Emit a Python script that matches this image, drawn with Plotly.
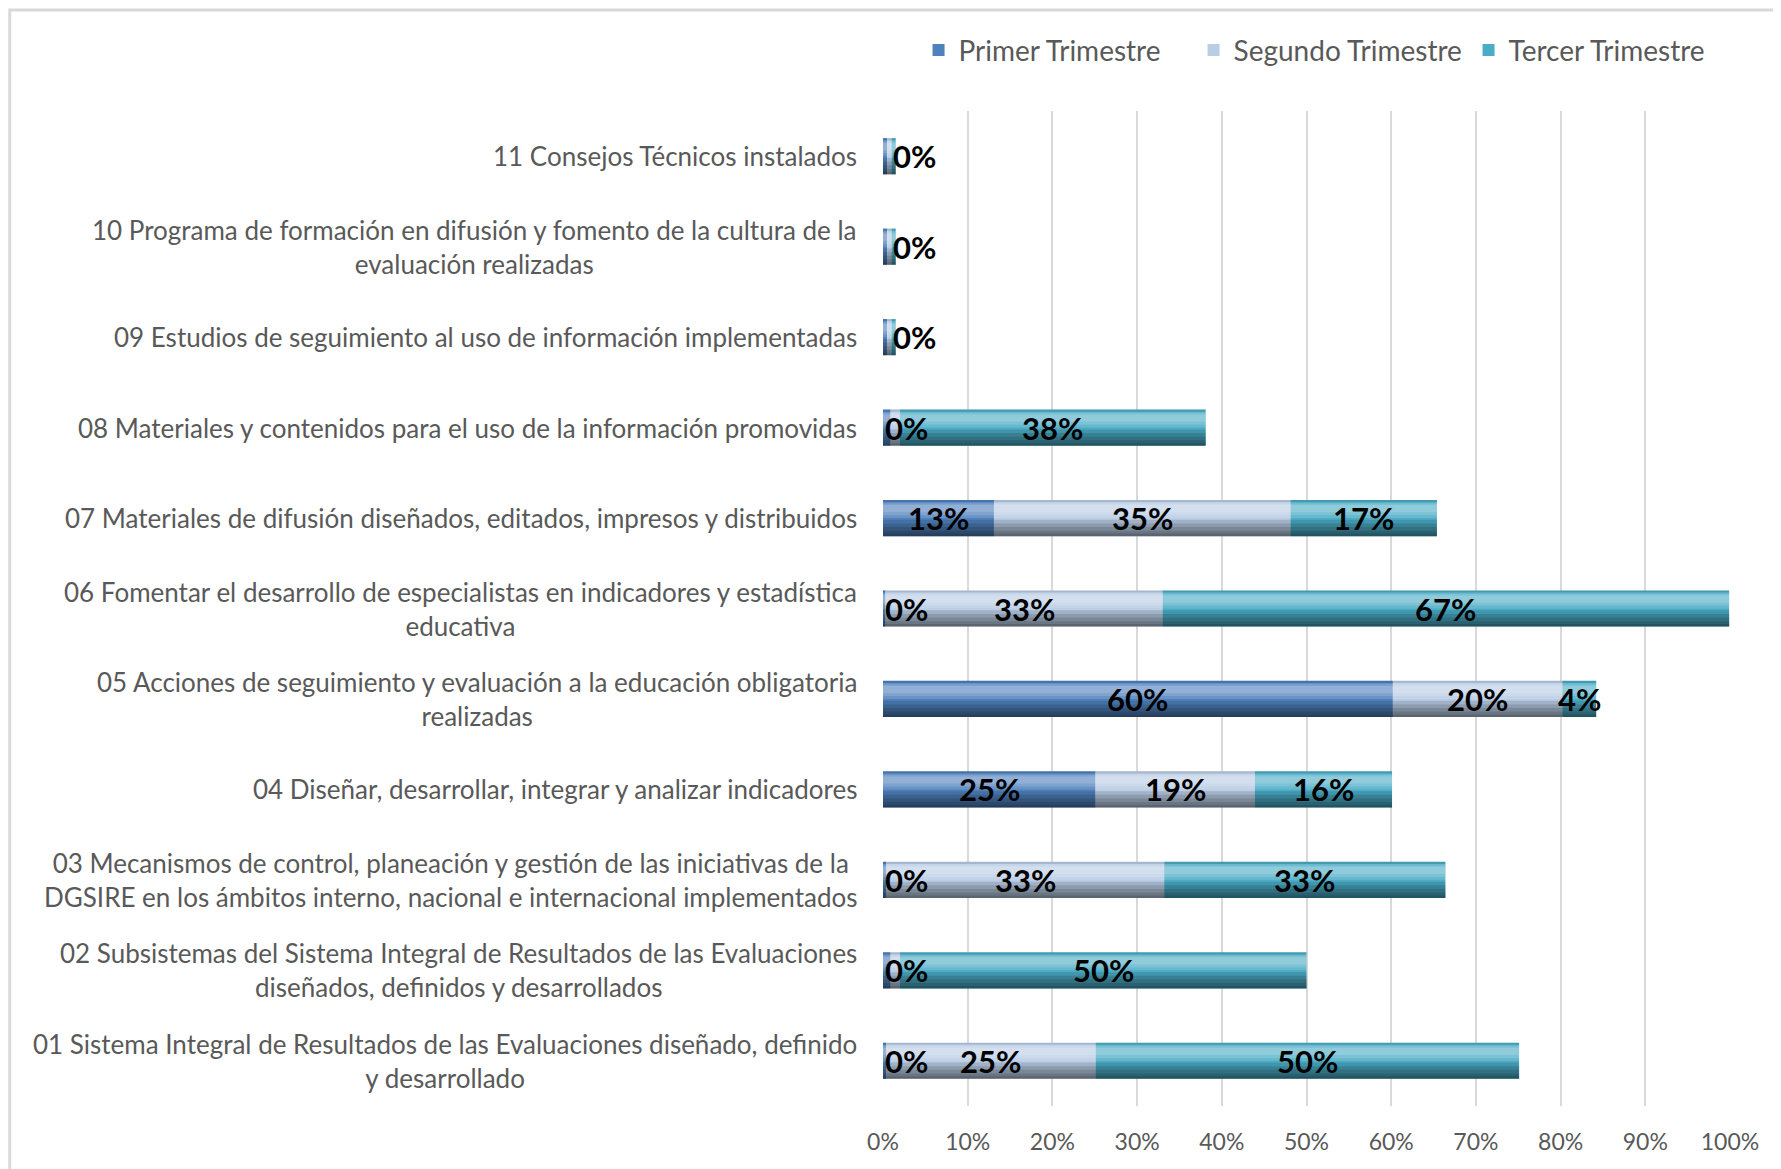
import plotly.graph_objects as go

# rows from bottom (01) to top (11)
codes = ["01", "02", "03", "04", "05", "06", "07", "08", "09", "10", "11"]
names = [
    "01 Sistema Integral de Resultados de las Evaluaciones diseñado, definido<br>y desarrollado",
    "02 Subsistemas del Sistema Integral de Resultados de las Evaluaciones<br>diseñados, definidos y desarrollados",
    "03 Mecanismos de control, planeación y gestión de las iniciativas de la<br>DGSIRE en los ámbitos interno, nacional e internacional implementados",
    "04 Diseñar, desarrollar, integrar y analizar indicadores",
    "05 Acciones de seguimiento y evaluación a la educación obligatoria<br>realizadas",
    "06 Fomentar el desarrollo de especialistas en indicadores y estadística<br>educativa",
    "07 Materiales de difusión diseñados, editados, impresos y distribuidos",
    "08 Materiales y contenidos para el uso de la información promovidas",
    "09 Estudios de seguimiento al uso de información implementadas",
    "10 Programa de formación en difusión y fomento de la cultura de la<br>evaluación realizadas",
    "11 Consejos Técnicos instalados",
]

primer = [0.4, 0.9, 0.4, 25.1, 60.2, 0.3, 13.1, 0.9, 0.5, 0.5, 0.5]
segundo = [24.7, 1.1, 32.8, 18.8, 20.0, 32.7, 35.0, 1.1, 0.5, 0.5, 0.5]
tercer = [50.0, 48.0, 33.2, 16.2, 4.0, 66.9, 17.3, 36.1, 0.5, 0.5, 0.5]

primer_lbl = ["0%", "0%", "0%", "25%", "60%", "0%", "13%", "0%", None, None, None]
segundo_lbl = ["25%", None, "33%", "19%", "20%", "33%", "35%", None, None, None, None]
tercer_lbl = ["50%", "50%", "33%", "16%", "4%", "67%", "17%", "38%", "0%", "0%", "0%"]

series = [
    ("Primer Trimestre", primer, primer_lbl, "#4F81BD"),
    ("Segundo Trimestre", segundo, segundo_lbl, "#B9CDE5"),
    ("Tercer Trimestre", tercer, tercer_lbl, "#4BACC6"),
]

xticks = [0, 10, 20, 30, 40, 50, 60, 70, 80, 90, 100]

# Excel-like bevel, nested overlays: (from, to) as fraction of bar height
# measured from the top, colour
shading = [
    (0.00, 0.06, "rgba(0,0,0,0.10)"),
    (0.06, 0.50, "rgba(255,255,255,0.15)"),
    (0.10, 0.42, "rgba(255,255,255,0.15)"),
    (0.14, 0.34, "rgba(255,255,255,0.15)"),
    (0.55, 1.00, "rgba(0,0,0,0.13)"),
    (0.65, 1.00, "rgba(0,0,0,0.13)"),
    (0.75, 1.00, "rgba(0,0,0,0.13)"),
    (0.85, 1.00, "rgba(0,0,0,0.13)"),
    (0.93, 1.00, "rgba(0,0,0,0.13)"),
]

FONT = "Lato, sans-serif"
BAR_W = 0.4

fig = go.Figure()

starts = [0.0] * len(codes)
for name, vals, lbls, color in series:
    fig.add_trace(
        go.Bar(
            y=codes,
            x=vals,
            base=starts,
            orientation="h",
            name=name,
            marker=dict(color=color, line=dict(width=0)),
            width=BAR_W,
            hoverinfo="skip",
        )
    )
    for i, (v, t) in enumerate(zip(vals, lbls)):
        if t is None:
            continue
        small = v < 3
        fig.add_annotation(
            x=starts[i] if small else starts[i] + v / 2,
            y=i, xref="x", yref="y",
            text=t, showarrow=False,
            xanchor="left" if small else "center",
            yanchor="middle",
            font=dict(family=FONT, size=31, color="#000000", weight="bold"),
        )
    starts = [s + v for s, v in zip(starts, vals)]

totals = starts
for f0, f1, col in shading:
    fig.add_trace(
        go.Bar(
            y=codes,
            x=totals,
            base=[0.0] * len(codes),
            orientation="h",
            width=(f1 - f0) * BAR_W,
            offset=BAR_W / 2 - f1 * BAR_W,
            marker=dict(color=col, line=dict(width=0)),
            showlegend=False,
            hoverinfo="skip",
        )
    )

# category labels, centred like the original
for i, n in enumerate(names):
    fig.add_annotation(
        x=0, xref="paper", y=i, yref="y",
        text=n, showarrow=False,
        xanchor="right", yanchor="middle", align="center",
        xshift=-24,
        font=dict(family=FONT, size=26, color="#595959"),
    )

fig.update_xaxes(
    range=[0, 100],
    tickmode="array",
    tickvals=xticks,
    ticktext=[f"{v}%" for v in xticks],
    showgrid=True,
    gridcolor="#D9D9D9",
    gridwidth=2,
    zeroline=False,
    showline=False,
    tickfont=dict(family=FONT, size=23, color="#595959"),
    ticklabelstandoff=20,
    fixedrange=True,
)

fig.update_yaxes(
    type="category",
    categoryorder="array",
    categoryarray=codes,
    range=[-0.5, 10.5],
    showticklabels=False,
    showgrid=False,
    zeroline=False,
    fixedrange=True,
)

fig.add_shape(
    type="rect", xref="paper", yref="paper",
    x0=-1.031, x1=1.2, y0=-0.2, y1=1.1015,
    line=dict(color="#D9D9D9", width=3),
    layer="below",
)

fig.update_layout(
    width=1781,
    height=1169,
    barmode="overlay",
    paper_bgcolor="white",
    plot_bgcolor="white",
    margin=dict(l=875, r=59, t=103, b=71),
    font=dict(family=FONT, color="#595959"),
    legend=dict(
        orientation="h",
        x=1.016, xanchor="right",
        y=1.061, yanchor="middle",
        font=dict(family=FONT, size=28, color="#595959"),
        itemwidth=30,
        entrywidth=230,
        traceorder="normal",
    ),
)

fig.write_html("out.html")
